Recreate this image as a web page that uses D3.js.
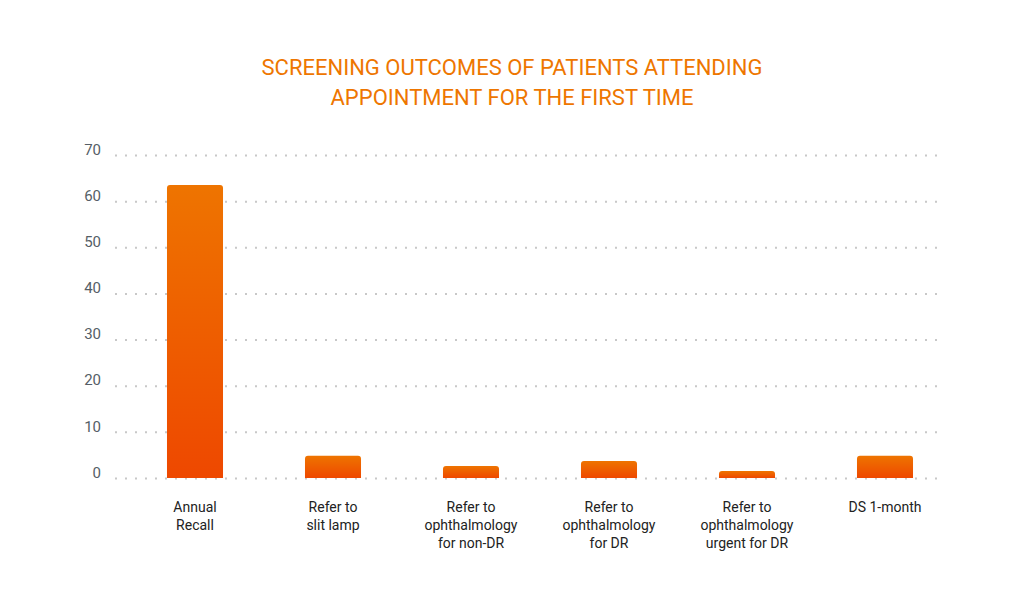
<!DOCTYPE html><html><head><meta charset="utf-8">
<script src="https://cdn.jsdelivr.net/npm/d3@7"></script>
<style>body{margin:0;background:#fff}text{font-family:Roboto,sans-serif}</style></head><body>
<svg id="c" width="1024" height="616"></svg>
<script>
const categories=[["Annual","Recall"],["Refer to","slit lamp"],["Refer to","ophthalmology","for non-DR"],["Refer to","ophthalmology","for DR"],["Refer to","ophthalmology","urgent for DR"],["DS 1-month"]];
const values=[63.5,4.8,2.6,3.7,1.5,4.8];
const ticks=[0,10,20,30,40,50,60,70];
const titleLines=["SCREENING OUTCOMES OF PATIENTS ATTENDING","APPOINTMENT FOR THE FIRST TIME"];
const svg=d3.select("#c");
const defs=svg.append("defs");
const g=defs.append("linearGradient").attr("id","gr").attr("x1",0).attr("y1",0).attr("x2",0).attr("y2",1);
g.append("stop").attr("offset","0%").attr("stop-color","#ee7400");
g.append("stop").attr("offset","100%").attr("stop-color","#ee4800");
const y=d3.scaleLinear().domain([0,70]).range([478,155]);
const x=d3.scaleBand().domain(d3.range(categories.length)).range([126,954]).paddingInner(0.594).paddingOuter(0.297);
svg.selectAll(".t").data(titleLines).join("text").attr("x",512).attr("y",(d,i)=>75+i*30).attr("text-anchor","middle").attr("fill","#ee7600").attr("font-size",22).text(d=>d);
const ax=svg.append("g").attr("transform","translate(115,0)").call(d3.axisLeft(y).tickValues(ticks).tickSize(-830).tickPadding(14));
ax.select(".domain").remove();
ax.selectAll(".tick line").attr("stroke","#c8c8c8").attr("stroke-width",2).attr("stroke-dasharray","2,8");
ax.selectAll(".tick text").attr("fill","#555e66").attr("font-size",15).attr("dy","-0.05em");
const r=3;
svg.selectAll(".b").data(values).join("path").attr("fill","url(#gr)").attr("d",(d,i)=>{
 const x0=x(i),w=x.bandwidth(),t=y(d),b=y(0);
 return `M${x0},${b}V${t+r}Q${x0},${t} ${x0+r},${t}H${x0+w-r}Q${x0+w},${t} ${x0+w},${t+r}V${b}Z`;});
categories.forEach((c,i)=>{
 const t=svg.append("text").attr("x",x(i)+x.bandwidth()/2).attr("y",512).attr("text-anchor","middle").attr("font-size",14).attr("fill","#222");
 c.forEach((l,j)=>t.append("tspan").attr("x",x(i)+x.bandwidth()/2).attr("dy",j?18:0).text(l));
});
</script></body></html>
